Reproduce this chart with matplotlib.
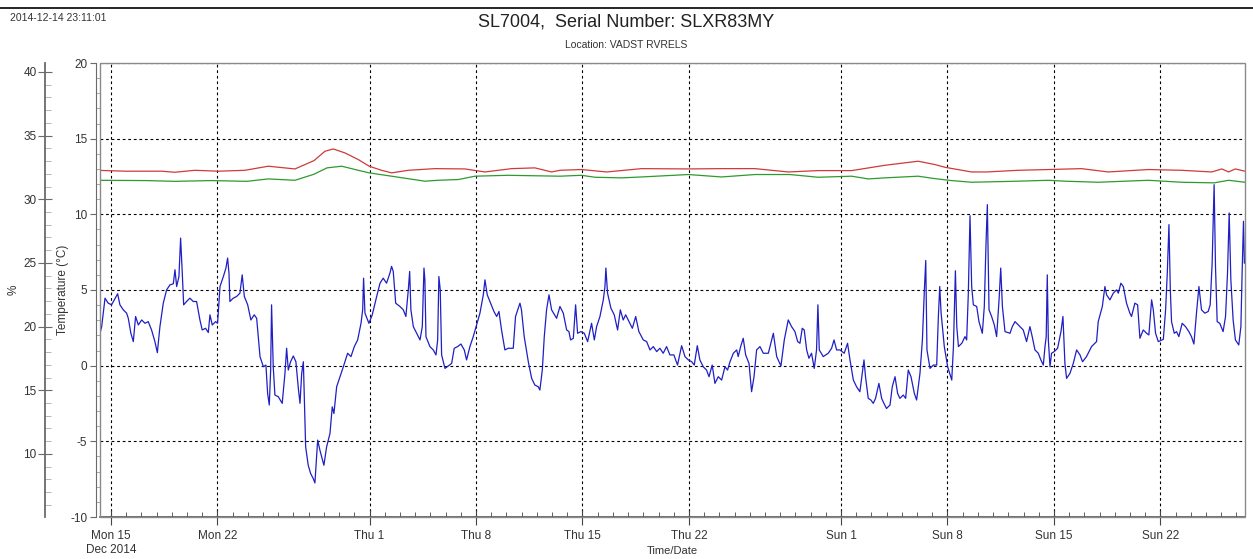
import numpy as np
import pandas as pd
import matplotlib
matplotlib.use('Agg')
import matplotlib.pyplot as plt
import matplotlib.dates as mdates
from matplotlib.ticker import MultipleLocator
from matplotlib.patches import Rectangle
from matplotlib.lines import Line2D

plt.rcParams['font.family'] = ['Liberation Sans', 'DejaVu Sans']
plt.rcParams['axes.unicode_minus'] = False

# time axis is days since 2014-12-15 00:00
base = np.datetime64('2014-12-15T00:00:00')

# blue trace (temperature, degC)
blue_days = [-0.94, -0.72, -0.61, -0.39, -0.18, 0.04, 0.22, 0.44, 0.59, 0.81, 1.03, 1.14, 1.31, 1.47, 1.62, 1.80,
             2.02, 2.24, 2.45, 2.67, 2.89, 3.05, 3.22, 3.44, 3.66, 3.88, 4.10, 4.21, 4.32, 4.47, 4.58, 4.69, 4.78,
             4.97, 5.19, 5.41, 5.63, 5.85, 6.00, 6.22, 6.40, 6.51, 6.66, 6.88, 7.01, 7.17, 7.39, 7.56, 7.67, 7.76,
             7.82, 8.04, 8.26, 8.48, 8.63, 8.77, 8.99, 9.20, 9.42, 9.58, 9.80, 10.02, 10.19, 10.30, 10.41, 10.50,
             10.56, 10.67, 10.78, 11.00, 11.26, 11.44, 11.55, 11.66, 11.81, 11.99, 12.16, 12.32, 12.43, 12.54, 12.65,
             12.80, 12.97, 13.13, 13.30, 13.41, 13.59, 13.74, 14.00, 14.18,
             14.40, 14.55, 14.66, 14.84, 15.06, 15.28, 15.56, 15.78, 16.00, 16.22, 16.44, 16.55, 16.61, 16.70, 16.96,
             17.18, 17.47, 17.69, 17.90, 18.12, 18.34, 18.45, 18.56, 18.72, 19.00, 19.22, 19.39, 19.55, 19.64, 19.72,
             19.88, 20.10, 20.32, 20.47, 20.58, 20.64, 20.71, 20.97, 21.19, 21.37, 21.48, 21.56, 21.65, 21.74, 21.96,
             22.18, 22.40, 22.57, 22.79, 23.01, 23.23, 23.38, 23.60, 23.82, 24.04, 24.26, 24.48, 24.59, 24.74, 24.96,
             25.18, 25.36, 25.51, 25.68, 25.90, 26.12, 26.45, 26.60, 26.89, 26.99, 27.17, 27.44, 27.66, 27.87, 28.09,
             28.20, 28.36, 28.49, 28.64, 28.80, 28.97, 29.30,
             29.52, 29.74, 29.96, 30.11, 30.22, 30.40, 30.55, 30.68, 30.90, 31.12, 31.34, 31.60, 31.78, 31.93, 32.15,
             32.37, 32.48, 32.54, 32.65, 32.87, 33.09, 33.31, 33.49, 33.68, 33.84, 34.06, 34.28, 34.50, 34.71, 35.00,
             35.22, 35.44, 35.66, 35.88, 36.09, 36.31, 36.53, 36.75, 37.01, 37.25, 37.52, 37.74, 37.96, 38.18, 38.35,
             38.55, 38.72, 38.94, 39.16, 39.32, 39.53, 39.71, 39.93, 40.15, 40.37, 40.54, 40.70, 40.92, 41.14, 41.24,
             41.40, 41.57, 41.73, 41.95, 42.12, 42.28, 42.45, 42.67, 42.89, 43.22, 43.55, 43.77, 44.05, 44.27,
             44.53, 44.75, 44.97, 45.15, 45.30, 45.45, 45.58, 45.74, 45.89, 46.06, 46.24, 46.39, 46.48, 46.57, 46.83,
             47.16, 47.38, 47.54, 47.71, 47.93, 48.21, 48.43, 48.59, 48.81, 49.02, 49.24, 49.51, 49.61, 49.79, 49.96,
             50.12, 50.27, 50.49, 50.67, 50.82, 50.99, 51.22, 51.37, 51.55, 51.72, 51.87, 52.09, 52.25, 52.42, 52.60,
             52.82, 52.97, 53.19, 53.35, 53.48, 53.57, 53.65, 53.85, 54.07, 54.29, 54.40, 54.49, 54.58, 54.79, 55.01,
             55.28, 55.39, 55.52, 55.61, 55.72, 55.94, 56.15, 56.26, 56.37, 56.48, 56.59, 56.70, 56.92, 57.07, 57.29,
             57.42, 57.53, 57.62, 57.73, 57.90, 58.08, 58.23, 58.39, 58.50, 58.61, 58.78, 59.11, 59.26, 59.44,
             59.77, 59.98, 60.20, 60.42, 60.57, 60.75, 60.97, 61.14, 61.30, 61.41, 61.49, 61.56, 61.63, 61.74, 61.84,
             62.02, 62.24, 62.46, 62.59, 62.72, 62.83, 63.05, 63.27, 63.49, 63.71, 63.88, 64.14, 64.47, 64.80, 64.91,
             65.18, 65.35, 65.46, 65.68, 65.90, 66.12, 66.23, 66.40, 66.56, 66.77, 66.99, 67.10, 67.32, 67.50, 67.65,
             67.87, 68.09, 68.24, 68.42, 68.53, 68.68, 68.86, 69.19, 69.34, 69.45, 69.56, 69.65, 69.73, 69.91, 70.06,
             70.21, 70.43, 70.65, 70.87, 71.04, 71.20, 71.37, 71.53, 71.70, 71.92, 72.14, 72.27, 72.40, 72.53, 72.62,
             72.73, 72.90, 73.12, 73.28, 73.41, 73.52, 73.63, 73.78, 73.93, 74.15, 74.29, 74.37, 74.46, 74.52]
blue_temp = [2.91, 2.14, 2.58, 4.46, 4.13, 4.02, 4.35, 4.75, 4.02, 3.69, 3.47, 3.13, 2.14, 1.59, 3.25, 2.69,
             3.02, 2.80, 2.91, 2.36, 1.59, 0.86, 2.58, 4.13, 5.01, 5.34, 5.41, 6.34, 5.23, 5.89, 8.43, 6.11, 4.02,
             4.24, 4.46, 4.24, 4.24, 3.02, 2.36, 2.47, 2.19, 3.36, 2.69, 2.91, 2.80, 5.23, 5.89, 6.45, 7.11, 6.11,
             4.24, 4.46, 4.57, 4.79, 6.00, 4.57, 4.02, 3.02, 3.36, 3.13, 0.60, -0.07, 0.04, -1.83, -2.60, -0.29,
             4.02, -0.07, -1.94, -2.05, -2.49, -0.51, 1.15, -0.29, 0.26, 0.64, 0.26, -1.50, -2.49, -0.51, 0.26,
             -5.36, -6.58, -7.13, -7.46, -7.75, -4.92, -5.59, -6.58, -5.36,
             -4.48, -2.72, -3.16, -1.39, -0.73, -0.07, 0.82, 0.60, 1.26, 1.70, 2.80, 3.69, 5.78, 3.47, 2.80,
             3.36, 4.57, 5.45, 5.78, 5.45, 6.11, 6.56, 6.23, 4.13, 3.91, 3.69, 3.25, 5.01, 6.23, 3.69,
             2.58, 2.14, 1.70, 2.58, 6.45, 5.67, 1.92, 1.26, 1.04, 0.71, 1.70, 5.89, 5.01, 0.71, -0.18,
             -0.02, 0.15, 1.15, 1.26, 1.43, 1.04, 0.38, 1.26, 1.92, 2.69, 3.47, 4.68, 5.67, 4.68, 4.13,
             3.58, 3.25, 3.58, 2.36, 1.04, 1.15, 1.15, 3.25, 4.13, 3.69, 1.92, 0.26, -0.84, -1.28, -1.39,
             -1.61, -0.29, 1.92, 3.69, 4.68, 3.69, 3.13,
             3.91, 3.47, 2.36, 2.25, 1.70, 1.81, 4.02, 2.14, 2.25, 2.14, 1.59, 2.80, 1.70, 2.58, 3.25,
             4.35, 5.23, 6.45, 4.79, 3.80, 3.36, 2.36, 3.69, 3.02, 3.36, 2.91, 2.47, 3.25, 2.25, 1.70,
             1.59, 1.04, 1.26, 0.93, 1.15, 0.82, 1.26, 0.71, 0.71, 0.04, 1.32, 0.60, 0.38, 0.26, 0.04,
             1.32, 0.38, -0.07, -0.29, -0.73, 0.04, -1.17, -0.73, -0.95, -0.07, -0.29, 0.26, 0.82, 1.04, 0.60,
             1.26, 1.81, 0.71, 0.15, -1.72, -0.73, 1.04, 1.26, 0.82, 0.82, 2.14, 0.60, -0.02, 1.70,
             3.02, 2.58, 2.25, 1.59, 1.48, 2.47, 2.36, 1.04, 0.49, 0.82, -0.18, 1.04, 4.02, 1.04, 0.60,
             0.82, 1.15, 1.70, 1.04, 1.04, 0.82, 1.48, 0.38, -0.95, -1.39, -1.72, 0.38, -0.73, -2.16, -2.27,
             -2.49, -2.16, -1.17, -2.16, -2.49, -2.83, -2.60, -1.39, -0.73, -1.83, -2.16, -1.94, -2.16, -0.29, -0.73,
             -1.83, -2.27, -0.51, 1.70, 5.01, 6.95, 1.04, -0.18, 0.04, 0.04, 3.25, 5.23, 3.47, 1.26, -0.07,
             -0.95, 1.26, 6.27, 2.58, 1.26, 1.48, 1.92, 1.70, 4.79, 9.91, 5.23, 4.02, 3.91, 2.91, 2.14,
             3.91, 7.99, 10.64, 3.69, 3.25, 2.69, 1.92, 4.35, 6.45, 3.91, 2.25, 2.14, 2.58, 2.91,
             2.58, 2.36, 1.59, 2.58, 1.92, 1.04, 0.82, 0.38, 0.04, 1.26, 1.92, 6.00, 1.70, -0.07, 0.82,
             0.93, 1.15, 2.25, 3.25, 0.15, -0.84, -0.51, 0.15, 1.04, 0.71, 0.26, 0.60, 1.26, 1.59, 2.91,
             3.91, 5.23, 4.68, 4.35, 4.79, 5.01, 4.79, 5.45, 5.23, 4.13, 3.47, 3.25, 4.13, 4.02, 1.81,
             2.36, 2.14, 2.03, 4.35, 3.69, 2.14, 1.59, 1.74, 3.69, 6.11, 9.32, 5.01, 2.91, 2.14, 2.25,
             1.92, 2.80, 2.58, 2.25, 1.92, 1.43, 3.47, 5.23, 3.69, 3.47, 3.58, 4.02, 6.78, 11.96, 6.56,
             2.91, 2.80, 2.25, 3.25, 6.11, 10.09, 5.67, 3.02, 1.70, 1.37, 2.58, 6.11, 9.54, 6.78]

# red trace
red_days = [-0.95, 1.0, 3.33, 4.2, 5.52, 7.06, 8.81, 10.34, 12.1, 13.35, 14.07, 14.62, 15.38, 16.26, 16.98,
            17.79, 18.45, 19.55, 21.30, 23.27, 24.59, 26.34, 27.87, 28.97, 29.52, 30.94, 32.59, 34.89, 37.96,
            40.15, 42.34, 44.53, 46.5, 48.70, 50.88, 53.07, 54.17, 54.83, 56.58, 57.57, 59.65, 61.62, 63.81,
            65.57, 68.2, 70.39, 72.37, 73.04, 73.48, 73.92, 74.56]
red_temp = [12.91, 12.85, 12.85, 12.78, 12.91, 12.85, 12.91, 13.18, 13.0, 13.55, 14.17, 14.32, 14.06, 13.62, 13.18,
            12.91, 12.74, 12.91, 13.02, 13.0, 12.8, 13.02, 13.07, 12.8, 12.91, 12.96, 12.8, 13.02, 13.0,
            13.02, 13.02, 12.8, 12.89, 12.89, 13.24, 13.51, 13.29, 13.11, 12.8, 12.8, 12.91, 12.96, 13.02,
            12.8, 12.96, 12.91, 12.8, 13.0, 12.8, 13.0, 12.85]

# green trace
green_days = [-0.95, 2.33, 4.2, 6.6, 8.94, 10.34, 12.1, 13.35, 14.2, 15.17, 16.26, 16.98, 18.45, 20.64, 21.52,
              22.84, 23.93, 26.12, 27.22, 29.52, 30.94, 31.82, 33.57, 34.89, 37.96, 40.15, 42.34, 44.64, 46.5,
              48.70, 49.79, 50.88, 53.07, 54.17, 55.27, 56.58, 59.65, 61.62, 62.72, 64.91, 68.2, 70.39, 72.54,
              73.48, 74.56]
green_temp = [12.25, 12.23, 12.18, 12.23, 12.18, 12.34, 12.25, 12.65, 13.07, 13.18, 12.91, 12.74, 12.52, 12.19, 12.25,
              12.30, 12.52, 12.58, 12.56, 12.52, 12.58, 12.45, 12.41, 12.47, 12.63, 12.47, 12.63, 12.63, 12.45,
              12.52, 12.34, 12.41, 12.52, 12.36, 12.23, 12.12, 12.19, 12.25, 12.19, 12.12, 12.25, 12.12, 12.08,
              12.25, 12.12]

tick_dates = ['2014-12-15', '2014-12-22', '2015-01-01', '2015-01-08', '2015-01-15', '2015-01-22',
              '2015-02-01', '2015-02-08', '2015-02-15', '2015-02-22']
tick_labels = ['Mon 15\nDec 2014', 'Mon 22', 'Thu 1', 'Thu 8', 'Thu 15', 'Thu 22',
               'Sun 1', 'Sun 8', 'Sun 15', 'Sun 22']


def to_time(days):
    return base + (np.array(days) * 86400).astype('timedelta64[s]')


W, H = 1253, 559
fig = plt.figure(figsize=(W / 100, H / 100), dpi=100)
L, R, T, B = 100, 1245, 63, 517
ax = fig.add_axes([L / W, 1 - B / H, (R - L) / W, (B - T) / H])

ax.plot(to_time(red_days), red_temp, color='#d03a3a', lw=0.9, zorder=3)
ax.plot(to_time(green_days), green_temp, color='#2e9a2e', lw=0.9, zorder=3)
ax.plot(to_time(blue_days), blue_temp, color='#1f1fc4', lw=0.9, zorder=3)

ax.set_xlim(to_time([-0.72])[0], to_time([74.56])[0])
ax.set_ylim(-10, 20)

gcol = '#6a6a6a'
px = 0.72  # points per pixel
for s in ['top', 'right']:
    ax.spines[s].set_visible(False)
ax.spines['left'].set_position(('outward', 4 * px))
ax.spines['left'].set_color(gcol)
ax.spines['bottom'].set_color('#555555')
ax.spines['bottom'].set_linewidth(1.2)
ax.add_patch(Rectangle((0, 0), 1, 1, transform=ax.transAxes, fill=False,
                       edgecolor='#8a8a8a', lw=1.0, clip_on=False, zorder=4))

ax.yaxis.set_major_locator(MultipleLocator(5))
ax.yaxis.set_minor_locator(MultipleLocator(1))
ax.tick_params(axis='y', which='major', direction='out', length=6 * px, color=gcol,
               labelsize=8.5, labelcolor='#333333', pad=2)
ax.tick_params(axis='y', which='minor', direction='in', length=4 * px, color='#9a9a9a')

ax.set_xticks(pd.to_datetime(tick_dates))
ax.set_xticklabels(tick_labels)
ax.xaxis.set_minor_locator(mdates.DayLocator())
ax.tick_params(axis='x', which='major', direction='inout', length=15 * px, color='#444444',
               labelsize=8.5, labelcolor='#333333', pad=4)
ax.tick_params(axis='x', which='minor', direction='in', length=5 * px, color='#444444')

ax.grid(True, which='major', color='black', linestyle=(0, (2.5, 2.5)), lw=0.8)

ax.set_ylabel('Temperature (°C)', fontsize=8.5, color='#333333')
ax.yaxis.set_label_coords(-0.027, 0.5)
ax.set_xlabel('Time/Date', fontsize=8, color='#333333')
ax.xaxis.set_label_coords(0.5, -0.064)

# percent axis on the far left
ax2 = ax.twinx()
ax2.set_ylim(5.05, 40.7)
ax2.yaxis.set_ticks_position('left')
ax2.yaxis.set_label_position('left')
for s in ['top', 'right', 'bottom']:
    ax2.spines[s].set_visible(False)
ax2.spines['left'].set_position(('outward', 55 * px))
ax2.spines['left'].set_color(gcol)
ax2.spines['left'].set_linewidth(1.3)
ax2.yaxis.set_minor_locator(MultipleLocator(1))
ax2.set_yticks([10, 15, 20, 25, 30, 35, 40])
ax2.tick_params(axis='y', which='major', direction='inout', length=14 * px, color=gcol,
                labelsize=8.5, labelcolor='#333333', pad=1)
ax2.tick_params(axis='y', which='minor', direction='in', length=6 * px, color='#a8a8a8')
ax2.set_ylabel('%', fontsize=8.5, color='#333333')
ax2.yaxis.set_label_coords(-0.070, 0.5)

fig.text(0.5, 1 - 22 / H, 'SL7004,  Serial Number: SLXR83MY', ha='center', va='center',
         fontsize=13, color='#222222')
fig.text(0.5, 1 - 45 / H, 'Location: VADST RVRELS', ha='center', va='center',
         fontsize=7.5, color='#333333')
fig.text(10 / W, 1 - 18 / H, '2014-12-14 23:11:01', ha='left', va='center',
         fontsize=7.5, color='#333333')
fig.add_artist(Line2D([0, 1], [1 - 8 / H, 1 - 8 / H], transform=fig.transFigure,
                      color='black', lw=1.2))

fig.savefig('out.png', dpi=100, facecolor='white')
